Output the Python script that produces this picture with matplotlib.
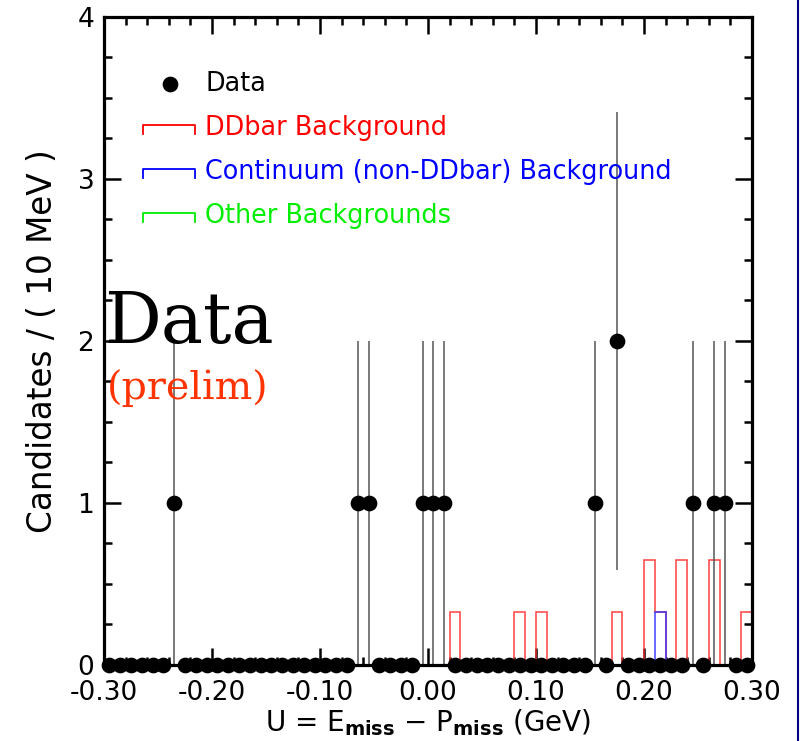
import numpy as np
import matplotlib
matplotlib.use("Agg")
import matplotlib.pyplot as plt
from matplotlib.ticker import MultipleLocator, FormatStrFormatter
from matplotlib.lines import Line2D

# Binning: 60 bins of 10 MeV from -0.30 to 0.30 GeV
bin_edges = np.round(np.linspace(-0.30, 0.30, 61), 3)
bin_centers = 0.5 * (bin_edges[:-1] + bin_edges[1:])

# Observed candidates per bin (bins listed by centre)
data_bins = [-0.235, -0.065, -0.055, -0.005, 0.005, 0.015, 0.155, 0.175, 0.245, 0.265, 0.275]
data_vals = [1, 1, 1, 1, 1, 1, 1, 2, 1, 1, 1]

# Stacked background expectation (DDbar on top of continuum)
ddbar_bins = [0.025, 0.085, 0.105, 0.175, 0.205, 0.235, 0.265, 0.295]
ddbar_vals = [0.325, 0.325, 0.325, 0.325, 0.65, 0.65, 0.65, 0.325]
cont_bins = [0.215]
cont_vals = [0.325]

legend_labels = ["Data", "DDbar Background", "Continuum (non-DDbar) Background", "Other Backgrounds"]


def fill_bins(centers, values):
    out = np.zeros(len(bin_centers))
    for c, v in zip(centers, values):
        out[np.argmin(np.abs(bin_centers - c))] = v
    return out


counts = fill_bins(data_bins, data_vals)
cont = fill_bins(cont_bins, cont_vals)
other = np.zeros(len(bin_centers))
total_bkg = fill_bins(ddbar_bins, ddbar_vals) + cont + other

fig = plt.figure(figsize=(8.0, 7.41), dpi=100)
ax = fig.add_axes([0.13, 0.1026, 0.81, 0.8745])

# background histograms
ax.stairs(total_bkg, bin_edges, color="#ff3030", lw=1.2, alpha=0.85, zorder=2)
ax.stairs(cont, bin_edges, color="#3030ff", lw=1.2, alpha=0.85, zorder=2.1)

# data points with sqrt(N) error bars
nz = counts > 0
ax.errorbar(bin_centers[nz], counts[nz], yerr=np.sqrt(counts[nz]), fmt="none",
            ecolor="#555555", elinewidth=1.1, capsize=0, zorder=3)
ax.plot(bin_centers, counts, "o", color="black", ms=10.3, zorder=4, clip_on=False)

ax.set_xlim(-0.30, 0.30)
ax.set_ylim(0, 4)

for s in ax.spines.values():
    s.set_linewidth(2.3)
    s.set_zorder(5)

ax.xaxis.set_major_locator(MultipleLocator(0.1))
ax.xaxis.set_minor_locator(MultipleLocator(0.02))
ax.yaxis.set_major_locator(MultipleLocator(1))
ax.yaxis.set_minor_locator(MultipleLocator(0.25))
ax.xaxis.set_major_formatter(FormatStrFormatter("%.2f"))
ax.yaxis.set_major_formatter(FormatStrFormatter("%d"))
ax.tick_params(which="both", direction="in", top=True, right=True, width=1.8)
ax.tick_params(which="major", length=12)
ax.tick_params(which="minor", length=5.5)
ax.tick_params(axis="x", which="major", labelsize=19, pad=11)
ax.tick_params(axis="y", which="major", labelsize=19, pad=7)

ax.set_ylabel("Candidates / ( 10 MeV )", fontsize=23.5, labelpad=13)
ax.set_xlabel(r"U = E$_{\mathbf{miss}}$ $-$ P$_{\mathbf{miss}}$ (GeV)", fontsize=20, labelpad=1)


def axpos(px, py):
    return ((px - 104) / 648.0, (665 - py) / 649.0)


# legend
tr = ax.transAxes
x0, y0 = axpos(170, 83)
ax.add_line(Line2D([x0], [y0], marker="o", ms=10.3, color="black", transform=tr, clip_on=False))
tx, ty = axpos(205, 83)
ax.text(tx, ty, legend_labels[0], transform=tr, fontsize=18.4, color="black", va="center")
for (label, col, ytop) in [(legend_labels[1], "#ff0000", 124),
                           (legend_labels[2], "#0000ff", 168),
                           (legend_labels[3], "#00ee00", 212)]:
    xa, ya = axpos(143, ytop + 9)
    xb, yb = axpos(195, ytop)
    ax.add_line(Line2D([xa, xa, xb, xb], [ya, yb, yb, ya], color=col, lw=1.3,
                       transform=tr, clip_on=False))
    tx, ty = axpos(205, ytop + 3)
    ax.text(tx, ty, label, transform=tr, fontsize=18.4, color=col, va="center")

# stamp
sx, sy = axpos(104, 343)
ax.text(sx, sy, "Data", transform=tr, fontsize=51, family="DejaVu Serif",
        color="black", va="baseline", ha="left", zorder=6)
px_, py_ = axpos(107, 399)
ax.text(px_, py_, "(prelim)", transform=tr, fontsize=28.5, family="DejaVu Serif",
        color="#ff3300", va="baseline", ha="left", zorder=6)

# frame edge on the right
fig.add_artist(Line2D([0.9975, 0.9975], [0, 1], color="#000080", lw=1.5, transform=fig.transFigure))

fig.savefig("out.png", dpi=100)
